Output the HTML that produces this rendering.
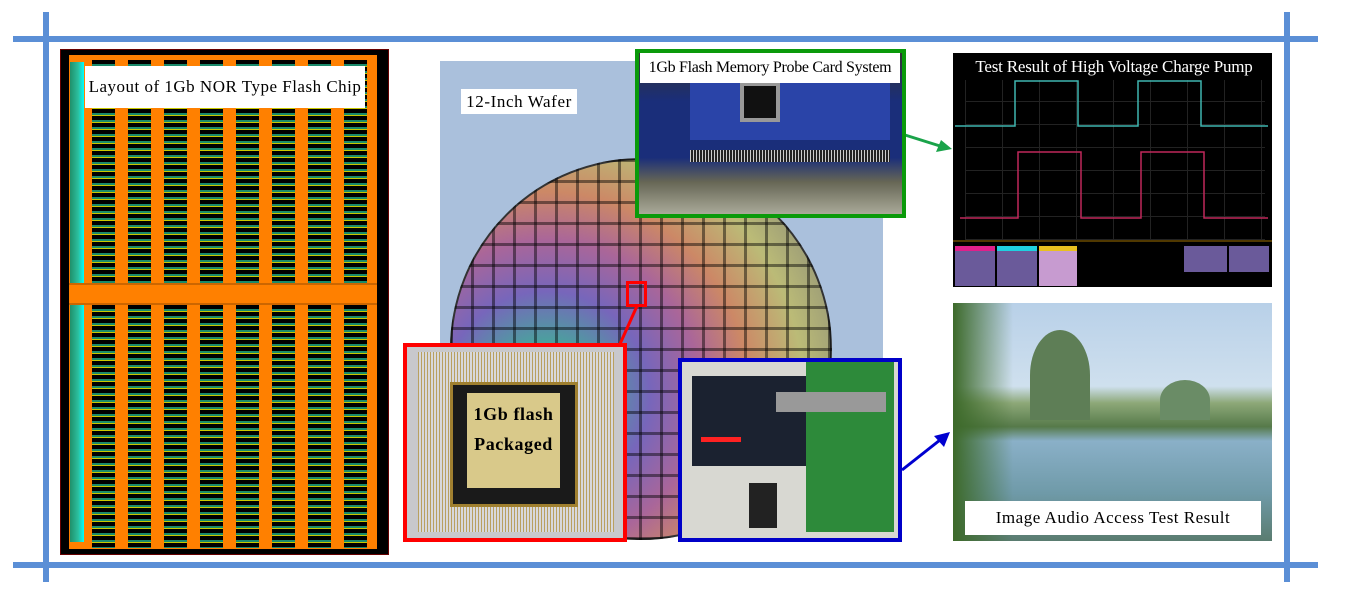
<!DOCTYPE html>
<html><head><meta charset="utf-8"><style>
*{margin:0;padding:0;box-sizing:border-box}
body{width:1347px;height:594px;background:#fff;position:relative;overflow:hidden;font-family:"Liberation Serif",serif}
.a{position:absolute}
.lbl{position:absolute;background:#fff;color:#000;white-space:nowrap}
</style></head><body>
<div class="a" style="left:13px;top:36px;width:1305px;height:6px;background:#5b8fd6"></div>
<div class="a" style="left:13px;top:562px;width:1305px;height:6px;background:#5b8fd6"></div>
<div class="a" style="left:43px;top:12px;width:6px;height:570px;background:#5b8fd6"></div>
<div class="a" style="left:1284px;top:12px;width:6px;height:570px;background:#5b8fd6"></div>

<!-- chip layout -->
<div class="a" style="left:60px;top:49px;width:329px;height:506px;background:#000;border:1px solid #600"></div>
<div class="a" style="left:69px;top:55px;width:308px;height:494px;background:#ff8000"></div>
<div class="a" style="left:70px;top:62px;width:14px;height:480px;background:linear-gradient(90deg,#1f8f6a,#2cc0a0 60%,#0ff)"></div>
<div class="a" style="left:84px;top:60px;width:292px;height:488px;background:repeating-linear-gradient(180deg,#000 0 4px,#1a8a6a 4px 6px,#c8c800 6px 7px)"></div>
<div class="a" style="left:84px;top:60px;width:292px;height:488px;background:repeating-linear-gradient(90deg,#ff8000 0 8px,transparent 8px 31px,#ff8000 31px 36px)"></div>
<div class="a" style="left:69px;top:283px;width:308px;height:22px;background:#ff8000;border-top:2px solid #c60;border-bottom:2px solid #c60"></div>
<div class="lbl" style="left:85px;top:66px;width:280px;height:42px;font-size:17px;line-height:42px;letter-spacing:.5px;text-align:center">Layout of 1Gb NOR Type Flash Chip</div>

<!-- wafer photo -->
<div class="a" style="left:440px;top:61px;width:443px;height:440px;background:#aac0dc"></div>
<div class="a" style="left:450px;top:158px;width:382px;height:382px;border-radius:50%;background:radial-gradient(circle at 25% 62%,#2d9 0,#4a9 12%,#76b 28%,#a69 42%,#c86 55%,#bb7 70%,#887 90%),#777;border:2px solid #333"></div>
<div class="a" style="left:450px;top:158px;width:382px;height:382px;border-radius:50%;background:repeating-linear-gradient(90deg,rgba(0,0,0,.45) 0 3px,transparent 3px 21px),repeating-linear-gradient(0deg,rgba(0,0,0,.45) 0 3px,transparent 3px 21px)"></div>
<div class="lbl" style="left:461px;top:89px;width:116px;height:25px;font-size:17px;line-height:25px;letter-spacing:.6px;text-align:center">12-Inch Wafer</div>
<div class="a" style="left:626px;top:281px;width:21px;height:26px;border:3px solid #f00"></div>
<svg class="a" style="left:0;top:0" width="1347" height="594">
<line x1="637" y1="306" x2="620" y2="344" stroke="#f00" stroke-width="3"/>
<line x1="905" y1="135" x2="940" y2="146" stroke="#1aa34a" stroke-width="3"/>
<polygon points="952,149 936,152 941,140" fill="#1aa34a"/>
<line x1="902" y1="470" x2="940" y2="440" stroke="#0000d0" stroke-width="3"/>
<polygon points="950,432 944,447 934,436" fill="#0000d0"/>
</svg>

<!-- probe card -->
<div class="a" style="left:635px;top:49px;width:271px;height:169px;border:4px solid #0a9a0a;background:linear-gradient(180deg,#333 0,#1a2e7a 30%,#1a2e7a 65%,#665 80%,#aa9 100%)"></div>
<div class="a" style="left:690px;top:80px;width:200px;height:60px;background:#2a44a8"></div>
<div class="a" style="left:740px;top:82px;width:40px;height:40px;background:#111;border:4px solid #999"></div>
<div class="a" style="left:690px;top:150px;width:200px;height:12px;background:repeating-linear-gradient(90deg,#ccc 0 1px,#222 1px 3px)"></div>
<div class="lbl" style="left:640px;top:53px;width:260px;height:30px;font-size:16px;line-height:30px;text-align:center;letter-spacing:-.3px">1Gb Flash Memory Probe Card System</div>

<!-- packaged chip -->
<div class="a" style="left:403px;top:343px;width:224px;height:199px;border:4px solid #f00;background:#c8c8cc"></div>
<div class="a" style="left:418px;top:352px;width:196px;height:180px;background:repeating-linear-gradient(90deg,#b9a060 0 1px,#d8d8dc 1px 3px)"></div>
<div class="a" style="left:450px;top:382px;width:128px;height:125px;background:#1a1a1a;border:3px solid #a08030"></div>
<div class="a" style="left:467px;top:393px;width:93px;height:95px;background:#d9c98a;font-size:18px;line-height:30px;padding-top:6px;text-align:center;letter-spacing:.6px;font-weight:bold">1Gb flash<br>Packaged</div>

<!-- board -->
<div class="a" style="left:678px;top:358px;width:224px;height:184px;border:4px solid #0000c8;background:#d8d8d2"></div>
<div class="a" style="left:692px;top:376px;width:115px;height:90px;background:#1b2230"></div>
<div class="a" style="left:806px;top:362px;width:88px;height:170px;background:#2d8a3a"></div>
<div class="a" style="left:776px;top:392px;width:110px;height:20px;background:#999"></div>
<div class="a" style="left:749px;top:483px;width:28px;height:45px;background:#222"></div>
<div class="a" style="left:701px;top:437px;width:40px;height:5px;background:#f22"></div>

<!-- scope -->
<div class="a" style="left:953px;top:53px;width:319px;height:234px;background:#000"></div>
<div class="a" style="left:965px;top:80px;width:300px;height:160px;background:repeating-linear-gradient(90deg,#222 0 1px,transparent 1px 37px),repeating-linear-gradient(0deg,#222 0 1px,transparent 1px 23px)"></div>
<svg class="a" style="left:953px;top:53px" width="319" height="234">
<polyline points="2,73 62,73 62,28 125,28 125,73 185,73 185,28 248,28 248,73 315,73" fill="none" stroke="#3fb6b0" stroke-width="1.5"/>
<polyline points="7,165 65,165 65,99 128,99 128,165 188,165 188,99 251,99 251,165 315,165" fill="none" stroke="#c0285a" stroke-width="1.5"/>
<line x1="0" y1="188" x2="319" y2="188" stroke="#a07000"/>
<rect x="2" y="193" width="40" height="40" fill="#6a5a9a"/><rect x="44" y="193" width="40" height="40" fill="#6a5a9a"/><rect x="86" y="193" width="38" height="40" fill="#c79bd0"/>
<rect x="2" y="193" width="40" height="5" fill="#e0208a"/><rect x="44" y="193" width="40" height="5" fill="#20d0e0"/><rect x="86" y="193" width="38" height="5" fill="#e8c020"/>
<rect x="231" y="193" width="43" height="26" fill="#6a5a9a"/><rect x="276" y="193" width="40" height="26" fill="#6a5a9a"/>
</svg>
<div class="a" style="left:959px;top:57px;width:310px;font-size:17px;color:#fff;text-align:center;white-space:nowrap;letter-spacing:-.2px">Test Result of High Voltage Charge Pump</div>

<!-- landscape -->
<div class="a" style="left:953px;top:303px;width:319px;height:238px;background:linear-gradient(180deg,#b8d0e8 0,#cfe0ee 35%,#8da878 42%,#567a4a 52%,#8ab0c8 58%,#6f9aa8 80%,#5a7c70 100%)"></div>
<div class="a" style="left:1030px;top:330px;width:60px;height:90px;background:#5e7e56;border-radius:50% 50% 0 0"></div>
<div class="a" style="left:1160px;top:380px;width:50px;height:40px;background:#6a8c66;border-radius:50% 50% 0 0"></div>
<div class="a" style="left:953px;top:303px;width:60px;height:238px;background:linear-gradient(90deg,#3d6a2a,rgba(80,120,60,0))"></div>
<div class="lbl" style="left:965px;top:501px;width:296px;height:34px;font-size:17px;line-height:34px;letter-spacing:.5px;text-align:center">Image Audio Access Test Result</div>
</body></html>
